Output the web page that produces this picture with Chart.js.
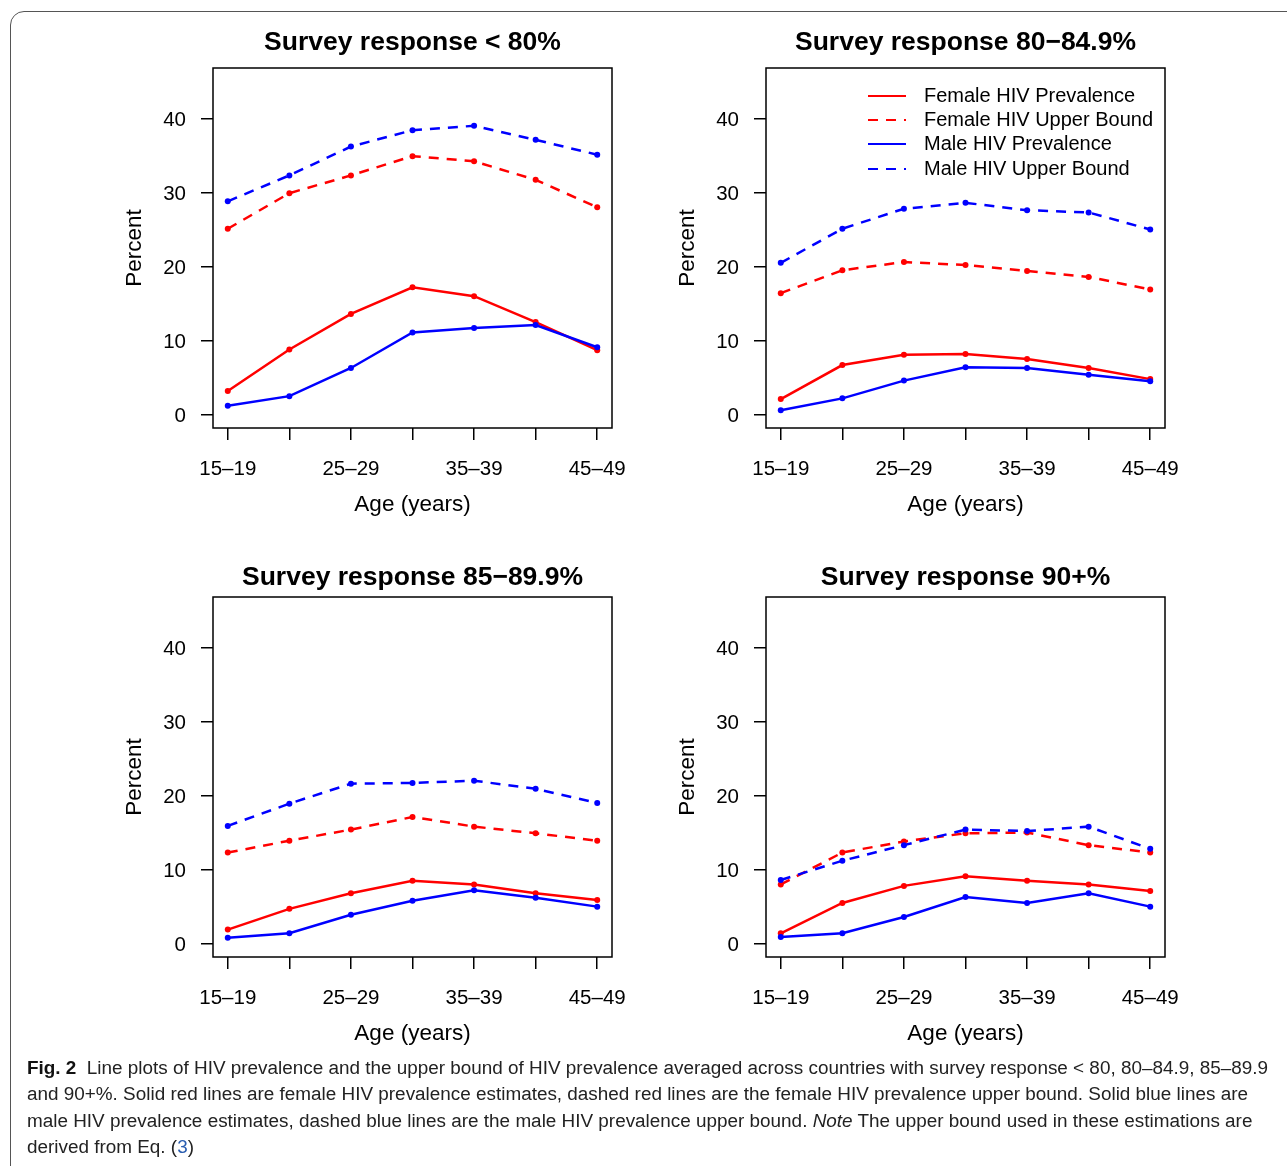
<!DOCTYPE html>
<html lang="en">
<head>
<meta charset="UTF-8">
<title>HIV prevalence by survey response</title>
<script src="https://cdn.jsdelivr.net/npm/chart.js"></script>
<style>
  body {
    margin: 0;
    width: 1287px;
    height: 1166px;
    background: #fff;
    position: relative;
    overflow: hidden;
    font-family: "Liberation Sans", Arial, sans-serif;
  }
  .frame {
    position: absolute;
    left: 10px;
    top: 11px;
    width: 1320px;
    height: 1200px;
    border: 1px solid #555;
    border-radius: 14px;
  }
  canvas.panel {
    position: absolute;
  }
  .caption {
    position: absolute;
    left: 27px;
    top: 1055px;
    font-family: "Liberation Sans Narrow", "Liberation Sans", Arial, sans-serif;
    font-size: 18px;
    line-height: 26.3px;
    color: #222;
    white-space: nowrap;
    transform-origin: 0 0;
  }
  .caption b { color: #111; }
  .caption .ref { color: #2a5db0; }
</style>
</head>
<body>
<div class="frame"></div>
<canvas class="panel" id="p1"></canvas>
<canvas class="panel" id="p2"></canvas>
<canvas class="panel" id="p3"></canvas>
<canvas class="panel" id="p4"></canvas>
<div class="caption" id="caption">
  <b>Fig. 2</b>&nbsp; Line plots of HIV prevalence and the upper bound of HIV prevalence averaged across countries with survey response &lt; 80, 80–84.9, 85–89.9<br>
  and 90+%. Solid red lines are female HIV prevalence estimates, dashed red lines are the female HIV prevalence upper bound. Solid blue lines are<br>
  male HIV prevalence estimates, dashed blue lines are the male HIV prevalence upper bound. <i>Note</i> The upper bound used in these estimations are<br>
  derived from Eq. (<span class="ref">3</span>)
</div>

<script>
  // age groups on the x axis
  const ageGroups = ['15–19', '20–24', '25–29', '30–34', '35–39', '40–44', '45–49'];
  const yTicks = [0, 10, 20, 30, 40];

  // survey response < 80%
  const femalePrevA = [3.2, 8.8, 13.6, 17.2, 16.0, 12.5, 8.7];
  const femaleUpperA = [25.1, 29.9, 32.3, 34.9, 34.2, 31.7, 28.0];
  const malePrevA = [1.2, 2.5, 6.3, 11.1, 11.7, 12.1, 9.1];
  const maleUpperA = [28.8, 32.3, 36.2, 38.4, 39.0, 37.1, 35.1];

  // survey response 80-84.9%
  const femalePrevB = [2.1, 6.7, 8.1, 8.2, 7.5, 6.3, 4.8];
  const femaleUpperB = [16.4, 19.5, 20.6, 20.2, 19.4, 18.6, 16.9];
  const malePrevB = [0.6, 2.2, 4.6, 6.4, 6.3, 5.4, 4.5];
  const maleUpperB = [20.5, 25.1, 27.8, 28.6, 27.6, 27.3, 25.0];

  // survey response 85-89.9%
  const femalePrevC = [1.9, 4.7, 6.8, 8.5, 8.0, 6.8, 5.9];
  const femaleUpperC = [12.3, 13.9, 15.4, 17.1, 15.8, 14.9, 13.9];
  const malePrevC = [0.8, 1.4, 3.9, 5.8, 7.2, 6.2, 5.0];
  const maleUpperC = [15.9, 18.9, 21.6, 21.7, 22.0, 20.9, 19.0];

  // survey response 90+%
  const femalePrevD = [1.4, 5.5, 7.8, 9.1, 8.5, 8.0, 7.1];
  const femaleUpperD = [8.0, 12.3, 13.8, 14.9, 15.0, 13.3, 12.3];
  const malePrevD = [0.9, 1.4, 3.6, 6.3, 5.5, 6.8, 5.0];
  const maleUpperD = [8.6, 11.2, 13.3, 15.4, 15.2, 15.8, 12.8];

  const legendNames = ['Female HIV Prevalence', 'Female HIV Upper Bound', 'Male HIV Prevalence', 'Male HIV Upper Bound'];
  const RED = '#ff0000';
  const BLUE = '#0000ff';
  const DASH = [10, 8];
  const FONT = '"Liberation Sans", Arial, sans-serif';

  Chart.defaults.font.family = FONT;
  Chart.defaults.font.size = 20.5;
  Chart.defaults.color = '#000';

  // box, titles, axis labels and the legend
  const decor = {
    id: 'decor',
    afterDraw(chart, args, opts) {
      const ctx = chart.ctx;
      const a = chart.chartArea;
      const cx = (a.left + a.right) / 2;
      ctx.save();
      ctx.strokeStyle = '#000';
      ctx.lineWidth = 1.5;
      ctx.strokeRect(a.left, a.top, a.right - a.left, a.bottom - a.top);

      ctx.fillStyle = '#000';
      ctx.textAlign = 'center';
      ctx.textBaseline = 'middle';
      ctx.font = 'bold 26.5px ' + FONT;
      ctx.fillText(opts.title, cx, a.top - opts.titleGap);

      ctx.font = '22.5px ' + FONT;
      ctx.fillText('Age (years)', cx, a.bottom + 77);
      ctx.save();
      ctx.translate(a.left - 78, (a.top + a.bottom) / 2);
      ctx.rotate(-Math.PI / 2);
      ctx.fillText('Percent', 0, 0);
      ctx.restore();

      if (opts.legend) {
        const rows = [28, 52, 76, 101];
        ctx.textAlign = 'left';
        ctx.font = '20px ' + FONT;
        chart.data.datasets.forEach((ds, i) => {
          const y = a.top + rows[i];
          ctx.strokeStyle = ds.borderColor;
          ctx.lineWidth = 2;
          ctx.setLineDash(ds.borderDash || []);
          ctx.beginPath();
          ctx.moveTo(a.left + 102, y);
          ctx.lineTo(a.left + 140, y);
          ctx.stroke();
          ctx.setLineDash([]);
          ctx.fillStyle = '#000';
          ctx.fillText(legendNames[i], a.left + 158, y);
        });
      }
      ctx.restore();
    }
  };

  function toPoints(values) {
    return values.map((v, i) => ({ x: i + 1, y: v }));
  }

  function series(values, color, dashed, order) {
    return {
      data: toPoints(values),
      borderColor: color,
      backgroundColor: color,
      borderWidth: 2.5,
      borderDash: dashed ? DASH : [],
      pointRadius: 3,
      pointBorderWidth: 0,
      tension: 0,
      fill: false,
      order: order
    };
  }

  function makePanel(id, left, top, title, titleGap, fPrev, fUp, mPrev, mUp, legend) {
    // plot box is 399 x 360, placed 120px in from the canvas left and 60px down
    const canvas = document.getElementById(id);
    canvas.style.left = (left - 120) + 'px';
    canvas.style.top = (top - 60) + 'px';
    canvas.width = 553;
    canvas.height = 530;

    new Chart(canvas, {
      type: 'line',
      data: {
        datasets: [
          series(fPrev, RED, false, 1),
          series(fUp, RED, true, 1),
          series(mPrev, BLUE, false, 0),
          series(mUp, BLUE, true, 0)
        ]
      },
      options: {
        responsive: false,
        animation: false,
        layout: { padding: { left: 0, right: 34, top: 60, bottom: 0 } },
        plugins: {
          legend: { display: false },
          tooltip: { enabled: false },
          decor: { title: title, titleGap: titleGap, legend: legend }
        },
        scales: {
          x: {
            type: 'linear',
            min: 0.76,
            max: 7.24,
            afterBuildTicks: s => { s.ticks = ageGroups.map((g, i) => ({ value: i + 1 })); },
            afterFit: s => { s.height = 110; },
            ticks: {
              autoSkip: false,
              maxRotation: 0,
              minRotation: 0,
              padding: 17,
              callback: v => (v % 2 === 1 ? ageGroups[v - 1] : '')
            },
            grid: { drawOnChartArea: false, tickLength: 12, color: '#000', lineWidth: 1.5 },
            border: { display: false }
          },
          y: {
            min: -1.8,
            max: 46.8,
            afterBuildTicks: s => { s.ticks = yTicks.map(v => ({ value: v })); },
            afterFit: s => { s.width = 120; },
            ticks: { padding: 15, labelOffset: 2 },
            grid: { drawOnChartArea: false, tickLength: 12, color: '#000', lineWidth: 1.5 },
            border: { display: false }
          }
        }
      },
      plugins: [decor]
    });
  }

  makePanel('p1', 213, 68, 'Survey response < 80%', 25, femalePrevA, femaleUpperA, malePrevA, maleUpperA, false);
  makePanel('p2', 766, 68, 'Survey response 80\u221284.9%', 25, femalePrevB, femaleUpperB, malePrevB, maleUpperB, true);
  makePanel('p3', 213, 597, 'Survey response 85\u221289.9%', 19, femalePrevC, femaleUpperC, malePrevC, maleUpperC, false);
  makePanel('p4', 766, 597, 'Survey response 90+%', 19, femalePrevD, femaleUpperD, malePrevD, maleUpperD, false);

  // stretch the caption so its first line spans the same width as in the figure
  const cap = document.getElementById('caption');
  const range = document.createRange();
  range.setStart(cap, 0);
  range.setEndBefore(cap.querySelector('br'));
  const firstWidth = range.getBoundingClientRect().width;
  cap.style.transform = 'scaleX(' + (1241 / firstWidth) + ')';
</script>
</body>
</html>
